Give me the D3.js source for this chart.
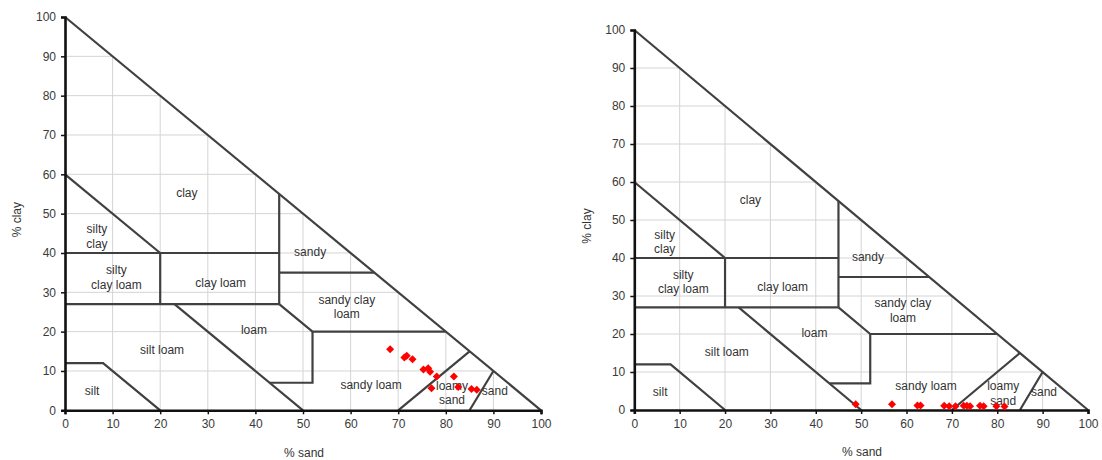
<!DOCTYPE html>
<html>
<head>
<meta charset="utf-8">
<script src="https://cdn.jsdelivr.net/npm/d3@7"></script>
<style>
  html, body { margin: 0; padding: 0; background: #fff; }
  svg { display: block; font-family: "Liberation Sans", Arial, sans-serif; }
</style>
</head>
<body>
<svg id="chart" width="1102" height="460"></svg>
<script>
// Axis ticks (percent)
const tickValues = [0, 10, 20, 30, 40, 50, 60, 70, 80, 90, 100];

// Sample set A: sand % and clay %
const sandA = [68.3, 71.3, 71.8, 73.0, 75.3, 76.3, 76.7, 78.1, 81.7, 77.0, 82.6, 85.4, 86.5];
const clayA = [15.5, 13.4, 13.9, 13.0, 10.4, 10.7, 9.8, 8.6, 8.6, 5.6, 5.9, 5.4, 5.2];

// Sample set B: sand % and clay %
const sandB = [48.8, 56.8, 62.4, 63.1, 68.3, 69.4, 70.8, 72.6, 73.3, 74.0, 76.2, 77.0, 79.8, 81.6];
const clayB = [1.5, 1.5, 1.2, 1.2, 1.1, 1.0, 1.0, 1.1, 1.1, 1.0, 1.1, 1.0, 1.0, 0.9];

// USDA texture class boundaries as polylines of [sand, clay]
const boundaries = [
  [[0, 100], [100, 0]],
  [[0, 60], [20, 40]],
  [[0, 40], [45, 40]],
  [[20, 27], [20, 40]],
  [[0, 27], [45, 27]],
  [[45, 27], [45, 55]],
  [[45, 35], [65, 35]],
  [[45, 27], [52, 20], [80, 20]],
  [[52, 20], [52, 7], [43, 7]],
  [[23, 27], [50, 0]],
  [[0, 12], [8, 12], [20, 0]],
  [[70, 0], [85, 15]],
  [[85, 0], [90, 10]]
];

// Texture class names: text lines and centre [sand, clay]
const classNames = [
  { lines: ["clay"], at: [25.6, 55.3] },
  { lines: ["silty", "clay"], at: [6.7, 44.3] },
  { lines: ["silty", "clay loam"], at: [10.8, 33.8] },
  { lines: ["clay loam"], at: [32.7, 32.5] },
  { lines: ["sandy"], at: [51.5, 40.3] },
  { lines: ["sandy clay", "loam"], at: [59.2, 26.3] },
  { lines: ["loam"], at: [39.7, 20.4] },
  { lines: ["silt loam"], at: [20.4, 15.3] },
  { lines: ["silt"], at: [5.7, 4.9] },
  { lines: ["sandy loam"], at: [64.3, 6.4] },
  { lines: ["loamy", "sand"], at: [81.3, 4.4] },
  { lines: ["sand"], at: [90.3, 4.9] }
];

const svg = d3.select("#chart");

function drawPanel(xr, yr, sand, clay, xTitle, yTitleX) {
  const x = d3.scaleLinear().domain([0, 100]).range(xr);
  const y = d3.scaleLinear().domain([0, 100]).range(yr);
  const g = svg.append("g");

  // grid, kept inside the triangle
  const grid = g.append("g").attr("stroke", "#d4d4d4").attr("stroke-width", 1);
  tickValues.filter(v => v > 0 && v < 100).forEach(v => {
    grid.append("line").attr("x1", x(v)).attr("x2", x(v))
      .attr("y1", y(0)).attr("y2", y(100 - v));
    grid.append("line").attr("x1", x(0)).attr("x2", x(100 - v))
      .attr("y1", y(v)).attr("y2", y(v));
  });

  // class boundaries
  const line = d3.line().x(d => x(d[0])).y(d => y(d[1]));
  g.append("g").selectAll("path").data(boundaries).join("path")
    .attr("d", line).attr("fill", "none")
    .attr("stroke", "#404040").attr("stroke-width", 2.2)
    .attr("stroke-linejoin", "miter");

  // axes
  const xAxis = d3.axisBottom(x).tickValues(tickValues).tickSize(4).tickPadding(5);
  const yAxis = d3.axisLeft(y).tickValues(tickValues).tickSize(4).tickPadding(5);
  const gx = g.append("g").attr("transform", `translate(0,${y(0)})`).call(xAxis);
  const gy = g.append("g").attr("transform", `translate(${x(0)},0)`).call(yAxis);
  [gx, gy].forEach(a => {
    a.select(".domain").attr("stroke", "#111").attr("stroke-width", 2.6);
    a.selectAll(".tick line").attr("stroke", "#111").attr("stroke-width", 1.5);
    a.selectAll(".tick text").attr("fill", "#3a3a3a")
      .style("font-size", "12px").style("font-family", "'Liberation Sans', Arial, sans-serif");
  });

  // class labels
  const lab = g.append("g").attr("fill", "#333").style("font-size", "12px")
    .attr("text-anchor", "middle");
  classNames.forEach(c => {
    const n = c.lines.length;
    c.lines.forEach((t, i) => {
      lab.append("text").attr("x", x(c.at[0]))
        .attr("y", y(c.at[1]) + (i - (n - 1) / 2) * 14.5)
        .attr("dy", "0.35em").text(t);
    });
  });

  // samples
  const diamond = d3.symbol().type(d3.symbolSquare).size(32);
  g.append("g").selectAll("path").data(d3.range(sand.length)).join("path")
    .attr("d", diamond)
    .attr("transform", i => `translate(${x(sand[i])},${y(clay[i])}) rotate(45)`)
    .attr("fill", "#ff0000");

  // axis titles
  g.append("text").attr("x", xTitle[0]).attr("y", xTitle[1])
    .attr("text-anchor", "middle").attr("fill", "#333").style("font-size", "12px")
    .text("% sand");
  g.append("text").attr("transform", `translate(${yTitleX},${(yr[0] + yr[1]) / 2 + 6}) rotate(-90)`)
    .attr("text-anchor", "middle").attr("dy", "0.35em").attr("fill", "#333").style("font-size", "12px")
    .text("% clay");
}

drawPanel([65, 541], [410.3, 17], sandA, clayA, [304, 457], 17);
drawPanel([634.3, 1088], [410, 30], sandB, clayB, [862, 456], 587);
</script>
</body>
</html>
